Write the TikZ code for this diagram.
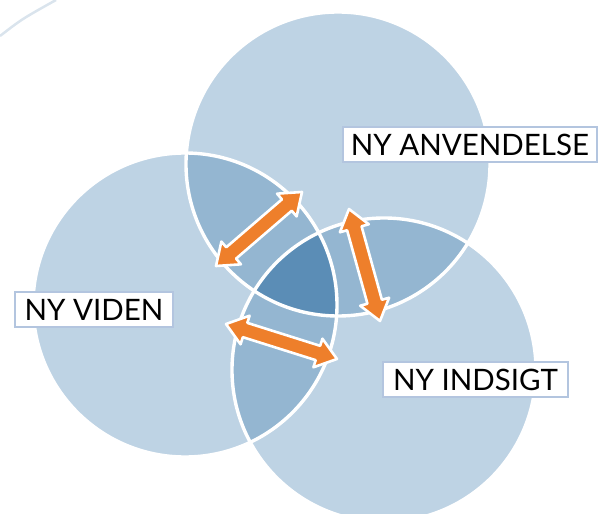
\documentclass[tikz,border=0pt]{standalone}
\usepackage{fontspec}
\setmainfont{Lato}
\usetikzlibrary{calc}
\definecolor{lightC}{HTML}{BED3E4}
\definecolor{midC}{HTML}{94B6D1}
\definecolor{darkC}{HTML}{5B8DB6}
\definecolor{orangeC}{HTML}{EE7F2B}
\definecolor{boxC}{HTML}{B3C5DF}
\definecolor{faintC}{HTML}{DAE4ED}
\newcommand{\biarrow}[2]{%
  \coordinate (#1h) at ($(#1)!20pt!(#2)$);
  \coordinate (#2h) at ($(#2)!20pt!(#1)$);
  \filldraw[arrowshape] (#1) -- ($(#1h)!15pt!90:(#2)$) -- ($(#1h)!7.5pt!90:(#2)$)
    -- ($(#2h)!7.5pt!-90:(#1)$) -- ($(#2h)!15pt!-90:(#1)$) -- (#2)
    -- ($(#2h)!15pt!90:(#1)$) -- ($(#2h)!7.5pt!90:(#1)$)
    -- ($(#1h)!7.5pt!-90:(#2)$) -- ($(#1h)!15pt!-90:(#2)$) -- cycle;}
\begin{document}
\begin{tikzpicture}[x=1pt,y=-1pt,
  arrowshape/.style={fill=orangeC, draw=white, line width=2.6pt, line join=round},
  ring/.style={draw=white, line width=3.4pt},
  label/.style={draw=boxC, line width=1.2pt, fill=white, inner sep=0pt,
     minimum height=35pt, font=\fontsize{29.5}{31}\selectfont, text=black},
  faint/.style={draw=faintC, line width=2.5pt}]
\useasboundingbox (0,0) rectangle (598,514);
\def\R{152pt}
\coordinate (T) at (338,164);
\coordinate (L) at (185,305);
\coordinate (B) at (384,370);
% faint arc at top-left
\coordinate (f1) at (0,36);
\coordinate (f2) at (56,0);
\draw[faint] (f1) .. controls (22,19) .. (f2);
% base circles
\fill[lightC] (T) circle[radius=\R];
\fill[lightC] (L) circle[radius=\R];
\fill[lightC] (B) circle[radius=\R];
% pairwise overlaps
\begin{scope}
  \clip (T) circle[radius=\R];
  \fill[midC] (L) circle[radius=\R];
  \fill[midC] (B) circle[radius=\R];
\end{scope}
\begin{scope}
  \clip (L) circle[radius=\R];
  \fill[midC] (B) circle[radius=\R];
\end{scope}
% triple overlap
\begin{scope}
  \clip (T) circle[radius=\R];
  \clip (L) circle[radius=\R];
  \fill[darkC] (B) circle[radius=\R];
\end{scope}
% white outlines
\draw[ring] (T) circle[radius=\R];
\draw[ring] (L) circle[radius=\R];
\draw[ring] (B) circle[radius=\R];
% arrows
\coordinate (a1) at (216,266);
\coordinate (a2) at (302,192);
\coordinate (b1) at (349,209);
\coordinate (b2) at (380,321);
\coordinate (c1) at (226,324);
\coordinate (c2) at (337,359);
\biarrow{a1}{a2}
\biarrow{b1}{b2}
\biarrow{c1}{c2}
% labels
\node[label, minimum width=254pt] (anv) at (470,144.5) {NY ANVENDELSE};
\node[label, minimum width=158pt] (vid) at (94,309.5) {NY VIDEN};
\node[label, minimum width=185pt] (ind) at (475.5,379.5) {NY INDSIGT};
\end{tikzpicture}
\end{document}
